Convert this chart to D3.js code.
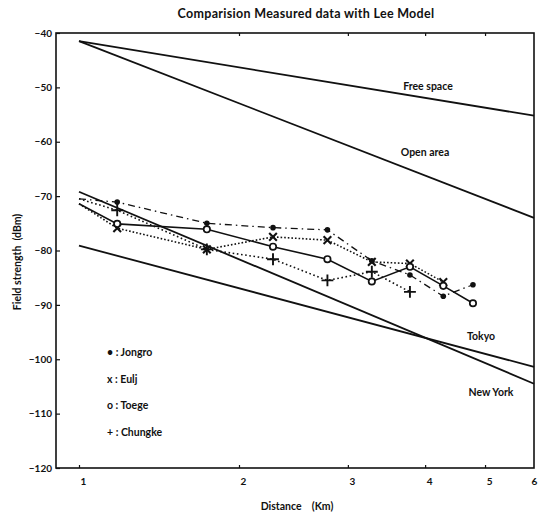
<!DOCTYPE html>
<html><head><meta charset="utf-8">
<script src="https://cdn.jsdelivr.net/npm/d3@7"></script>
<style>
body{margin:0;background:#fff}
text{font-family:Lato,"DejaVu Sans",sans-serif;font-weight:bold;fill:#111}
</style>
</head><body>
<svg id="chart" width="538" height="515"></svg>
<script>
// ---- data ----
const title = "Comparision Measured data with Lee Model";
const xLabel = "Distance    (Km)";
const yLabel = "Field strength  (dBm)";
const xTicks = [1, 2, 3, 4, 5, 6];
const yTicks = [-40, -50, -60, -70, -80, -90, -100, -110, -120];

const modelDistances = [1, 6];
const freeSpace = [-41.5, -55.2];
const openArea  = [-41.5, -74.0];
const tokyo     = [-79.1, -101.4];
const newYork   = [-69.2, -104.5];
const modelNames = ["Free space", "Open area", "Tokyo", "New York"];

const seriesNames = ["Jongro", "Eulj", "Toege", "Chungke"];
const jongroDist  = [1.0, 1.18, 1.74, 2.27, 2.78, 3.28, 3.78, 4.28, 4.78];
const jongroVal   = [-70.5, -71.1, -75.0, -75.8, -76.2, -81.9, -84.5, -88.4, -86.3];
const euljDist    = [1.0, 1.18, 1.74, 2.27, 2.78, 3.28, 3.78, 4.28];
const euljVal     = [-71.4, -75.9, -79.8, -77.5, -78.1, -82.1, -82.4, -85.8];
const toegeDist   = [1.0, 1.18, 1.74, 2.27, 2.78, 3.28, 3.78, 4.28, 4.78];
const toegeVal    = [-71.4, -75.1, -76.1, -79.3, -81.6, -85.7, -83.0, -86.5, -89.7];
const chungkeDist = [1.0, 1.18, 1.74, 2.27, 2.78, 3.28, 3.78];
const chungkeVal  = [-70.5, -72.6, -79.8, -81.6, -85.5, -83.9, -87.6];
const legendLabels = ["\u2022 : Jongro", "x : Eulj", "o : Toege", "+ : Chungke"];

// ---- layout ----
const svg = d3.select("#chart");
const L = 56, R = 534, T = 33, B = 468;
const x = d3.scaleLog().domain([1, 2, 6]).range([79, 239, 534]);
const y = d3.scaleLinear().domain([-40, -120]).range([T, B]);

svg.append("rect").attr("width", 538).attr("height", 515).attr("fill", "#fff");

// title
svg.append("text").attr("x", 306).attr("y", 18).attr("text-anchor", "middle")
  .style("font-size", "12.5px").style("letter-spacing", "0.3px").text(title);

// frame
svg.append("rect").attr("x", L).attr("y", T).attr("width", R - L).attr("height", B - T)
  .attr("fill", "none").attr("stroke", "#111").attr("stroke-width", 1.6);

// axes
const gx = svg.append("g").attr("transform", `translate(0,${B})`)
  .call(d3.axisBottom(x).tickValues(xTicks).tickFormat(d3.format("d")).tickSize(-3).tickPadding(10));
gx.select(".domain").remove();
gx.selectAll("text").attr("dx", d => d === 6 ? 0 : 4)
  .style("font-size", "10px").style("font-family", "Lato,sans-serif");
const gt = svg.append("g").attr("transform", `translate(0,${T})`)
  .call(d3.axisTop(x).tickValues(xTicks.slice(1, 5)).tickFormat("").tickSize(-3));
gt.select(".domain").remove();
const gy = svg.append("g").attr("transform", `translate(${L},0)`)
  .call(d3.axisLeft(y).tickValues(yTicks).tickSize(-4).tickPadding(4));
gy.select(".domain").remove();
gy.selectAll("text").style("font-size", "10px").style("font-family", "Lato,sans-serif");
svg.selectAll(".tick line").attr("stroke", "#111").attr("stroke-width", 1.2);
gx.selectAll(".tick").filter(d => d === 6).select("line").remove();

// axis labels
svg.append("text").attr("x", 297).attr("y", 510).attr("text-anchor", "middle")
  .style("font-size", "10.5px").attr("xml:space", "preserve").text(xLabel);
svg.append("text").attr("transform", "translate(21,262) rotate(-90)").attr("text-anchor", "middle")
  .style("font-size", "10.5px").attr("xml:space", "preserve").text(yLabel);

// model lines
const line = d3.line().x(d => x(d[0])).y(d => y(d[1]));
const models = [freeSpace, openArea, tokyo, newYork];
models.forEach(vals => {
  svg.append("path").datum(modelDistances.map((d, i) => [d, vals[i]]))
    .attr("d", line).attr("fill", "none").attr("stroke", "#111").attr("stroke-width", 1.8);
});
const modelLabelPos = [[428, 90], [425, 156], [481, 340], [491, 396]];
modelNames.forEach((n, i) => {
  svg.append("text").attr("x", modelLabelPos[i][0]).attr("y", modelLabelPos[i][1])
    .attr("text-anchor", "middle").style("font-size", "10.5px").text(n);
});

// measured series
const series = [
  {dist: jongroDist, val: jongroVal, dash: "7,4,1.5,4", width: 1.3, sym: "dot"},
  {dist: euljDist, val: euljVal, dash: "1.6,2", width: 1.6, sym: "x"},
  {dist: toegeDist, val: toegeVal, dash: null, width: 1.6, sym: "o"},
  {dist: chungkeDist, val: chungkeVal, dash: "1.6,2.6", width: 1.6, sym: "plus"}
];
series.forEach(s => {
  const pts = s.dist.map((d, i) => [d, s.val[i]]);
  svg.append("path").datum(pts).attr("d", line).attr("fill", "none")
    .attr("stroke", "#111").attr("stroke-width", s.width)
    .attr("stroke-dasharray", s.dash);
});
series.forEach(s => {
  const pts = s.dist.map((d, i) => [d, s.val[i]]).filter(p => p[0] > 1);
  const g = svg.append("g");
  pts.forEach(p => {
    const cx = x(p[0]), cy = y(p[1]);
    if (s.sym === "dot") {
      g.append("circle").attr("cx", cx).attr("cy", cy).attr("r", 2.8).attr("fill", "#111");
    } else if (s.sym === "o") {
      g.append("circle").attr("cx", cx).attr("cy", cy).attr("r", 3.2)
        .attr("fill", "#fff").attr("stroke", "#111").attr("stroke-width", 1.7);
    } else if (s.sym === "x") {
      g.append("path").attr("transform", `translate(${cx},${cy})`)
        .attr("d", d3.symbol(d3.symbolX, 40)()).attr("fill", "none")
        .attr("stroke", "#111").attr("stroke-width", 2.1);
    } else {
      g.append("path").attr("transform", `translate(${cx},${cy})`)
        .attr("d", d3.symbol(d3.symbolPlus, 48)()).attr("fill", "none")
        .attr("stroke", "#111").attr("stroke-width", 1.9);
    }
  });
});

// legend
legendLabels.forEach((t, i) => {
  svg.append("text").attr("x", 107).attr("y", 356 + i * 26.5)
    .style("font-size", "10.5px").text(t);
});
</script>
</body></html>
